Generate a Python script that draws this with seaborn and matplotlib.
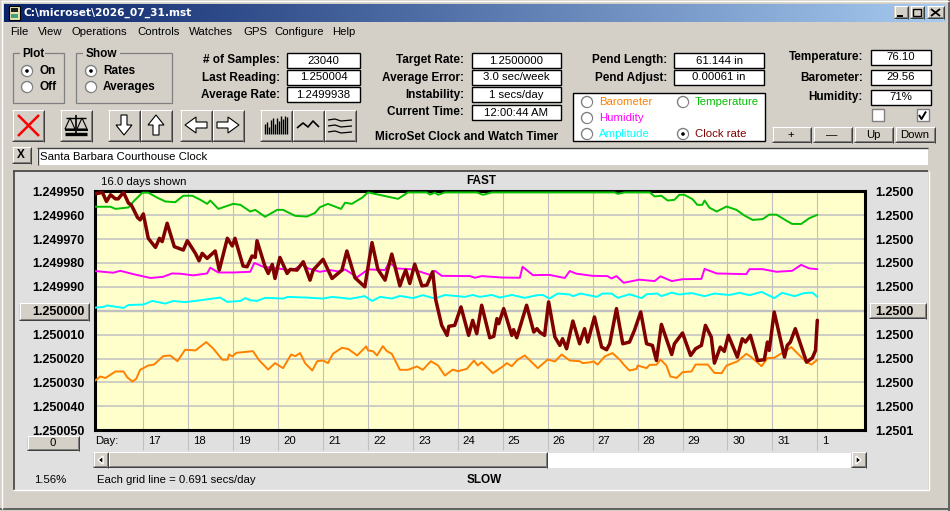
import numpy as np
import matplotlib
matplotlib.use("Agg")
import matplotlib.pyplot as plt
import matplotlib.transforms as mtrans
from matplotlib.patches import Rectangle, Circle, Polygon
import seaborn as sns

# values are offsets from 1.250000 in units of 1e-6, the axis runs FAST (top) to SLOW
temp_days = [15.93, 16.27, 16.38, 16.67, 16.78, 16.98, 17.11, 17.31, 17.49, 17.71, 17.89, 18.09, 18.27, 18.42, 18.49, 18.67, 19.0, 19.16, 19.38, 19.49, 19.71, 19.98, 20.11, 20.38, 20.64, 20.82, 20.93, 21.11, 21.4, 21.49, 21.64, 21.87, 22.0, 22.42, 22.67, 22.89, 23.31, 23.38, 23.49, 23.56, 23.71, 24.42, 24.56, 24.76, 27.49, 27.56, 27.71, 28.27, 28.38, 28.53, 28.67, 28.82, 28.93, 29.04, 29.22, 29.33, 29.44, 29.49, 29.6, 29.76, 29.98, 30.2, 30.38, 30.56, 30.78, 30.93, 31.09, 31.31, 31.44, 31.64, 31.82, 32.0]
temp_vals = [-43.5, -43.5, -42.6, -43.2, -45.7, -49.4, -49.4, -47.3, -45.7, -45.4, -48.1, -48.1, -46.4, -44.7, -46.1, -42.6, -44.7, -44.3, -41.5, -42.2, -39.3, -42.2, -42.2, -39.7, -39.4, -40.9, -43.3, -44.7, -42.6, -45.2, -44.7, -47.3, -49.5, -47.8, -46.8, -49.5, -49.5, -48.6, -49.4, -48.5, -49.5, -49.5, -48.5, -49.5, -49.5, -48.9, -49.5, -49.5, -47.8, -48.1, -46.1, -46.4, -48.5, -48.5, -46.7, -44.3, -44.3, -46.1, -43.1, -41.5, -43.6, -42.2, -39.8, -38.0, -38.3, -40.2, -40.2, -37.7, -36.3, -36.3, -38.7, -40.1]

humid_days = [15.93, 16.33, 16.49, 16.78, 17.16, 17.44, 17.64, 17.82, 18.11, 18.42, 18.49, 18.67, 19.0, 19.38, 19.47, 19.67, 20.11, 20.33, 20.53, 20.67, 20.93, 21.16, 21.38, 21.49, 21.76, 22.0, 22.38, 22.47, 22.64, 23.0, 23.38, 23.49, 23.64, 24.27, 24.38, 24.53, 24.98, 25.38, 25.44, 25.67, 26.04, 26.38, 26.49, 26.64, 27.0, 27.33, 27.42, 27.53, 27.69, 28.04, 28.38, 28.51, 28.76, 29.0, 29.42, 29.49, 29.76, 29.98, 30.42, 30.49, 30.78, 31.09, 31.44, 31.64, 31.82, 32.0]
humid_vals = [-16.6, -15.9, -16.7, -15.3, -13.7, -14.2, -15.6, -15.5, -14.8, -15.6, -18.0, -16.0, -16.0, -16.3, -20.0, -18.4, -17.4, -16.9, -19.5, -17.7, -16.3, -17.0, -16.3, -17.3, -14.0, -17.3, -17.0, -20.2, -17.7, -17.3, -15.0, -16.7, -14.6, -14.5, -13.8, -14.5, -13.9, -13.8, -18.4, -14.9, -15.0, -13.7, -16.6, -15.5, -14.6, -14.5, -13.5, -14.5, -11.7, -13.0, -12.4, -14.4, -12.4, -13.2, -13.3, -17.5, -15.6, -15.5, -15.3, -17.4, -17.4, -16.3, -16.7, -19.2, -17.7, -17.4]

amp_days = [15.93, 16.11, 16.2, 16.56, 16.67, 17.0, 17.2, 17.49, 17.67, 17.93, 18.27, 18.71, 18.87, 19.16, 19.27, 19.38, 19.53, 19.71, 20.11, 20.22, 20.64, 21.0, 21.2, 21.6, 21.93, 22.09, 22.27, 22.53, 22.71, 23.0, 23.22, 23.49, 23.71, 24.16, 24.33, 24.49, 24.76, 24.93, 25.2, 25.49, 25.76, 25.89, 26.04, 26.22, 26.49, 26.56, 26.73, 27.09, 27.22, 27.42, 27.56, 27.82, 28.09, 28.2, 28.44, 28.53, 28.76, 28.93, 29.2, 29.49, 29.71, 30.04, 30.27, 30.49, 30.76, 31.04, 31.22, 31.49, 31.71, 31.89, 32.0]
amp_vals = [-1.3, -1.6, -2.2, -1.2, -2.4, -2.6, -4.1, -3.0, -4.1, -3.6, -4.4, -5.5, -3.7, -4.1, -5.3, -4.4, -4.1, -5.4, -5.1, -5.8, -5.5, -5.1, -5.8, -5.0, -6.1, -4.1, -5.8, -5.1, -6.2, -5.3, -6.5, -5.1, -6.6, -5.8, -6.6, -5.8, -6.6, -5.5, -6.6, -5.4, -6.5, -6.6, -5.1, -7.2, -6.8, -6.1, -7.2, -5.8, -7.2, -7.2, -5.4, -6.9, -5.3, -6.9, -7.2, -6.1, -7.6, -6.8, -7.4, -6.1, -7.2, -6.6, -7.5, -6.5, -7.9, -5.3, -7.5, -6.1, -7.4, -7.6, -5.8]

baro_days = [15.93, 16.04, 16.16, 16.38, 16.56, 16.64, 16.76, 16.84, 16.93, 17.11, 17.24, 17.44, 17.6, 17.76, 17.93, 18.16, 18.4, 18.56, 18.76, 18.87, 18.91, 18.98, 19.07, 19.44, 19.58, 19.78, 19.93, 20.11, 20.29, 20.38, 20.49, 20.6, 20.76, 20.87, 21.0, 21.11, 21.22, 21.42, 21.56, 21.76, 21.96, 22.0, 22.11, 22.2, 22.33, 22.42, 22.53, 22.71, 22.89, 23.09, 23.22, 23.4, 23.56, 23.71, 23.89, 24.0, 24.2, 24.36, 24.44, 24.53, 24.78, 25.0, 25.09, 25.2, 25.33, 25.49, 25.78, 26.0, 26.16, 26.31, 26.49, 26.71, 26.78, 26.93, 27.02, 27.11, 27.27, 27.44, 27.6, 27.71, 27.82, 27.98, 28.0, 28.2, 28.27, 28.42, 28.51, 28.64, 28.73, 28.87, 29.0, 29.2, 29.29, 29.56, 29.71, 29.87, 29.98, 30.22, 30.42, 30.53, 30.76, 30.89, 31.04, 31.22, 31.42, 31.53, 31.76, 31.87, 32.0]
baro_vals = [29.2, 27.5, 28.1, 25.4, 25.4, 27.8, 29.6, 28.5, 24.7, 22.9, 22.5, 19.0, 18.7, 21.1, 16.3, 16.6, 13.1, 15.9, 20.5, 20.5, 18.3, 19.1, 17.6, 16.9, 20.8, 24.6, 21.9, 24.0, 18.3, 19.0, 17.7, 21.9, 25.0, 21.1, 20.8, 21.9, 18.0, 15.5, 16.0, 18.7, 14.9, 16.6, 16.9, 18.7, 14.8, 16.9, 18.0, 24.7, 24.7, 23.3, 24.7, 21.1, 22.9, 27.1, 24.6, 25.3, 24.3, 20.8, 22.9, 21.5, 26.1, 23.3, 21.9, 23.2, 20.5, 18.7, 24.0, 20.4, 21.2, 18.3, 20.8, 21.1, 21.9, 21.6, 21.2, 22.5, 19.1, 17.7, 20.4, 22.9, 25.0, 24.3, 22.9, 24.0, 22.6, 22.6, 20.4, 22.9, 27.5, 28.1, 25.7, 25.4, 22.5, 22.5, 26.0, 26.1, 22.9, 21.2, 18.0, 19.4, 23.2, 19.8, 19.7, 17.6, 15.2, 17.3, 21.5, 22.5, 20.5]

clock_days = [15.93, 16.09, 16.18, 16.27, 16.38, 16.44, 16.56, 16.67, 16.73, 16.78, 16.87, 16.93, 17.0, 17.11, 17.27, 17.36, 17.42, 17.53, 17.69, 17.89, 17.98, 18.16, 18.24, 18.31, 18.42, 18.6, 18.69, 18.87, 18.98, 19.04, 19.22, 19.31, 19.42, 19.49, 19.53, 19.71, 19.78, 19.87, 19.93, 20.04, 20.2, 20.27, 20.42, 20.56, 20.71, 20.78, 21.0, 21.2, 21.42, 21.53, 21.71, 21.93, 22.09, 22.22, 22.38, 22.53, 22.71, 22.78, 22.84, 22.93, 23.04, 23.2, 23.31, 23.44, 23.51, 23.64, 23.76, 23.8, 23.93, 24.07, 24.24, 24.33, 24.42, 24.53, 24.71, 24.8, 24.87, 24.91, 25.02, 25.2, 25.24, 25.31, 25.53, 25.69, 25.76, 25.82, 25.93, 26.02, 26.16, 26.27, 26.33, 26.42, 26.56, 26.71, 26.82, 26.89, 27.04, 27.2, 27.31, 27.38, 27.53, 27.67, 27.82, 27.93, 28.07, 28.2, 28.33, 28.42, 28.53, 28.76, 28.82, 29.0, 29.18, 29.29, 29.42, 29.51, 29.64, 29.71, 29.84, 29.93, 30.02, 30.22, 30.33, 30.4, 30.51, 30.67, 30.82, 30.89, 30.93, 31.04, 31.27, 31.33, 31.4, 31.51, 31.76, 31.89, 31.96, 32.0]
clock_vals = [-48.9, -49.5, -45.7, -48.5, -46.8, -46.8, -49.5, -45.0, -44.3, -42.5, -39.0, -38.0, -40.5, -30.3, -26.5, -30.3, -28.9, -36.6, -26.8, -25.4, -29.3, -24.0, -20.9, -24.0, -21.9, -25.0, -17.0, -30.3, -27.1, -30.3, -18.7, -18.4, -22.9, -22.3, -29.3, -18.4, -15.6, -19.4, -13.5, -22.3, -15.6, -17.3, -17.0, -20.5, -12.8, -17.0, -21.5, -13.5, -17.0, -25.0, -13.8, -10.0, -28.5, -17.3, -12.8, -23.7, -10.4, -14.2, -17.0, -11.4, -19.5, -10.4, -10.7, -16.3, -4.4, 6.1, 10.3, 6.5, 6.1, -1.6, 10.3, 4.0, 9.6, -2.3, 11.3, 10.7, 3.3, 5.4, -0.9, 10.3, 7.9, 11.3, -2.3, 8.9, 7.5, 8.9, 10.3, -3.7, 11.0, 14.5, 11.7, 15.9, 4.3, 13.8, 7.5, 13.1, 2.6, 15.2, 16.3, 13.8, -0.9, 13.8, 13.1, 8.2, 0.5, 13.8, 14.5, 20.8, 5.7, 18.3, 13.8, 9.3, 18.7, 15.9, 14.5, 6.1, 11.0, 21.9, 15.2, 17.0, 10.3, 19.4, 11.7, 13.1, 10.3, 20.8, 20.5, 13.1, 16.6, 0.5, 19.4, 14.5, 13.1, 7.5, 21.5, 19.7, 16.6, 4.0]

grid_offsets = [-50, -40, -30, -20, -10, 0, 10, 20, 30, 40, 50]
left_labels = ["1.249950", "1.249960", "1.249970", "1.249980", "1.249990", "1.250000",
               "1.250010", "1.250020", "1.250030", "1.250040", "1.250050"]
right_labels = ["1.2500"] * 10 + ["1.2501"]
day_ticks = [17, 18, 19, 20, 21, 22, 23, 24, 25, 26, 27, 28, 29, 30, 31, 32]
day_labels = ["17", "18", "19", "20", "21", "22", "23", "24", "25", "26", "27", "28", "29", "30", "31", "1"]

sns.set_theme(style="white")
plt.rcParams["font.family"] = ["Liberation Sans", "DejaVu Sans"]

FACE = "#d4d0c8"
PANEL = "#e0e0e0"
FONT = 8.2
BOLD = 8.5

fig = plt.figure(figsize=(9.5, 5.11), dpi=100, facecolor=FACE)

# window chrome, drawn in pixel coordinates on a full figure axes
ui = fig.add_axes([0, 0, 1, 1], zorder=0)
ui.set_axis_off()
ui.set_xlim(0, 950)
ui.set_ylim(511, 0)


def rect(x0, y0, x1, y1, fc="none", ec="none", lw=1.0, z=1):
    ui.add_patch(Rectangle((x0, y0), x1 - x0, y1 - y0, fc=fc, ec=ec, lw=lw, zorder=z))


def seg(xs, ys, color="black", lw=0.72, z=3):
    ui.plot(xs, ys, color=color, lw=lw, zorder=z, solid_capstyle="butt")


def bevel(x0, y0, x1, y1, sunken=False):
    light, dark = ("#ffffff", "#404040")
    if sunken:
        light, dark = dark, light
    rect(x0, y0, x1, y1, fc=FACE, z=2)
    seg([x0, x1], [y0 + 0.5, y0 + 0.5], light)
    seg([x0 + 0.5, x0 + 0.5], [y0, y1], light)
    seg([x0, x1], [y1 - 0.5, y1 - 0.5], dark)
    seg([x1 - 0.5, x1 - 0.5], [y0, y1], dark)
    seg([x0 + 1, x1 - 1], [y1 - 1.5, y1 - 1.5], "#808080")
    seg([x1 - 1.5, x1 - 1.5], [y0 + 1, y1 - 1], "#808080")


def txt(x, y, s, bold=False, ha="left", color="black", size=None):
    size = size or (BOLD if bold else FONT)
    ui.text(x, y, s, ha=ha, va="center", color=color, fontsize=size,
            fontweight="bold" if bold else "normal", zorder=6)


def field(x0, y0, x1, y1, s):
    rect(x0, y0, x1, y1, fc="white", ec="black", lw=1.0, z=2)
    txt((x0 + x1) / 2, (y0 + y1) / 2, s, ha="center")


def radio(x, y, on=False):
    ui.add_patch(Circle((x, y), 5.5, fc="white", ec="#808080", lw=1.0, zorder=3))
    ui.add_patch(Circle((x + 0.6, y + 0.6), 4.2, fc="white", ec="none", zorder=4))
    if on:
        ui.add_patch(Circle((x, y), 1.8, fc="black", ec="none", zorder=5))


def button(x0, y0, x1, y1, s, bold=False, size=None):
    bevel(x0, y0, x1, y1)
    txt((x0 + x1) / 2 - 0.5, (y0 + y1) / 2, s, ha="center", bold=bold, size=size)


# outer frame
rect(0, 0, 950, 511, fc=FACE)
seg([0, 950], [509.5, 509.5], "#606060", lw=1.4)
seg([948.5, 948.5], [0, 511], "#606060", lw=1.4)
seg([1, 949], [1.5, 1.5], "#ffffff", lw=1.0)
seg([1.5, 1.5], [1, 509], "#ffffff", lw=1.0)

# title bar
gradient = np.linspace(0, 1, 400).reshape(1, -1)
title_cmap = matplotlib.colors.LinearSegmentedColormap.from_list("title", ["#0a246a", "#a6caf0"])
ui.imshow(gradient, extent=(4, 946, 22, 4), aspect="auto", cmap=title_cmap, zorder=1)
ui.set_xlim(0, 950)
ui.set_ylim(511, 0)
ui.text(24, 13, "C:\\microset\\2026_07_31.mst", color="white", fontsize=7.65, fontweight="bold",
        family="DejaVu Sans", va="center", zorder=6)
rect(9, 6, 20, 20, fc="#e8e4b0", ec="black", lw=0.8, z=3)
rect(11, 8, 18, 12, fc="#202020", z=4)
rect(11, 14, 18, 18, fc="#40a080", z=4)
for bx0, bx1 in [(894, 908), (910, 924), (927, 944)]:
    bevel(bx0, 6, bx1, 19)
seg([897, 903], [16, 16], lw=1.4, z=5)
rect(913, 9, 921, 16, ec="black", lw=1.0, z=5)
seg([931, 940], [9, 16], lw=1.3, z=5)
seg([931, 940], [16, 9], lw=1.3, z=5)

# menu
for mx, name in [(10, "File"), (38, "View"), (72, "Operations"), (137, "Controls"), (189, "Watches"),
                 (243, "GPS"), (274, "Configure"), (332, "Help")]:
    txt(mx, 32, name)

# group boxes
rect(13, 53.5, 64, 103, ec="#808080", lw=0.9)
rect(76, 53.5, 172, 103, ec="#808080", lw=0.9)
rect(20, 49, 45, 58, fc=FACE, z=2)
rect(83, 49, 120, 58, fc=FACE, z=2)
txt(22, 54, "Plot", bold=True)
txt(86, 54, "Show", bold=True)
radio(27, 71, True)
radio(27, 87)
radio(91, 71, True)
radio(91, 87)
txt(40, 71, "On", bold=True)
txt(40, 87, "Off", bold=True)
txt(103, 71, "Rates", bold=True)
txt(103, 87, "Averages", bold=True)

# readouts
for ly, bx, s, val in [(60, (53, 68), "# of Samples:", "23040"), (78, (70, 85), "Last Reading:", "1.250004"),
                       (95, (87, 102), "Average Rate:", "1.2499938")]:
    txt(280, ly, s, bold=True, ha="right")
    field(287, bx[0], 360, bx[1], val)
for ly, bx, s, val in [(60, (53, 68), "Target Rate:", "1.2500000"), (78, (70, 85), "Average Error:", "3.0 sec/week"),
                       (95, (87, 102), "Instability:", "1 secs/day"), (112, (105, 120), "Current Time:", "12:00:44 AM")]:
    txt(464, ly, s, bold=True, ha="right")
    field(472, bx[0], 561, bx[1], val)
for ly, bx, s, val in [(60, (53, 68), "Pend Length:", "61.144 in"), (78, (70, 85), "Pend Adjust:", "0.00061 in")]:
    txt(667, ly, s, bold=True, ha="right")
    field(674, bx[0], 764, bx[1], val)
for ly, bx, s, val in [(57, (50, 65), "Temperature:", "76.10"), (78, (70, 85), "Barometer:", "29.56"),
                       (97, (90, 105), "Humidity:", "71%")]:
    txt(863, ly, s, bold=True, ha="right")
    field(871, bx[0], 931, bx[1], val)
txt(375, 137, "MicroSet Clock and Watch Timer", bold=True)

# series selector
rect(572.5, 93.5, 764.5, 141.5, fc="white", ec="black", lw=1.0, z=2)
for rx, ry, lab, col, on in [(587, 102, "Barometer", "#ff8000", False), (683, 102, "Temperature", "#00c000", False),
                             (587, 118, "Humidity", "#ff00ff", False), (587, 134, "Amplitude", "#00ffff", False),
                             (683, 134, "Clock rate", "#800000", True)]:
    radio(rx, ry, on)
    txt(rx + 12, ry, lab, color=col)

# checkboxes and small buttons
rect(871.5, 109.5, 883.5, 121.5, fc="white", ec="#808080", lw=1.0, z=2)
rect(916.5, 109.5, 928.5, 121.5, fc="white", ec="#808080", lw=1.0, z=2)
seg([919, 921.5, 926], [115, 119, 111.5], lw=1.4)
for bx0, bx1, lab in [(772, 811, "+"), (813, 852, "\u2014"), (854, 893, "Up"), (895, 935, "Down")]:
    button(bx0, 127, bx1, 143, lab)

# toolbar buttons
for bx0, bx1 in [(12, 44), (60, 92), (108, 140), (140, 172), (180, 212), (212, 244), (260, 292), (292, 324), (324, 356)]:
    bevel(bx0, 110, bx1, 142)
seg([18, 39], [115, 136], "#ff0000", lw=1.8, z=5)
seg([18, 39], [136, 115], "#ff0000", lw=1.8, z=5)
seg([76, 76], [115, 133], lw=1.2, z=5)
seg([66, 86], [118, 118], lw=1.0, z=5)
seg([65, 87], [134.5, 134.5], lw=2.4, z=5)
for cx in (70, 82):
    ui.add_patch(Polygon([(cx, 118), (cx - 5, 129), (cx + 5, 129)], closed=True, fc="none", ec="black", lw=0.8, zorder=5))
    seg([cx - 5.5, cx + 5.5], [130, 130], lw=1.4, z=5)
for arrow in [[(124, 135), (116, 125), (121, 125), (121, 115), (127, 115), (127, 125), (132, 125)],
              [(156, 115), (148, 125), (153, 125), (153, 135), (159, 135), (159, 125), (164, 125)],
              [(185, 125), (196, 117), (196, 122), (207, 122), (207, 128), (196, 128), (196, 133)],
              [(239, 125), (228, 117), (228, 122), (217, 122), (217, 128), (228, 128), (228, 133)]]:
    ui.add_patch(Polygon(arrow, closed=True, fc="white", ec="black", lw=0.8, zorder=5))
for bar_x, bar_top in zip(range(265, 288, 2), [124, 122, 127, 120, 118, 124, 118, 121, 116, 119, 116, 117]):
    seg([bar_x, bar_x], [bar_top, 134], lw=1.0, z=5)
seg([297, 303, 308, 313, 319], [128, 123, 127, 121, 127], lw=1.2, z=5)
for line_y in (120, 126, 132):
    seg([328, 335, 341, 352], [line_y, line_y - 1, line_y + 1, line_y], lw=0.9, z=5)

# note line
button(12, 147, 31, 164, "X", bold=True)
rect(37, 148, 928, 165, fc="white", z=2)
seg([37, 928], [148.5, 148.5], "#404040", lw=1.0)
seg([37.5, 37.5], [148, 165], "#404040", lw=1.0)
txt(40, 157, "Santa Barbara Courthouse Clock")

# chart panel
rect(14, 172, 928, 490, fc=PANEL, z=1)
seg([13, 928], [171.5, 171.5], "#404040", lw=1.2)
seg([13.5, 13.5], [171, 490], "#404040", lw=1.2)
seg([13, 929], [490, 490], "#ffffff", lw=1.0)
seg([928.5, 928.5], [171, 490], "#ffffff", lw=1.0)
button(19, 303, 89, 321, "")
button(869, 303, 926, 319, "")
button(27, 436, 79, 451, "0")
txt(101, 182, "16.0 days shown")
txt(481, 181, "FAST", bold=True, ha="center")
txt(484, 480, "SLOW", bold=True, ha="center")
txt(97, 480, "Each grid line = 0.691 secs/day")
txt(34, 480, "1.56%")
txt(95, 441, "Day:")

# scroll bar
rect(108, 453, 851, 468, fc="white", z=2)
bevel(93, 452, 108, 468)
bevel(108, 452, 547, 468)
bevel(851, 452, 866, 468)
ui.add_patch(Polygon([(103, 456), (103, 464), (98, 460)], closed=True, fc="black", zorder=5))
ui.add_patch(Polygon([(856, 456), (856, 464), (861, 460)], closed=True, fc="black", zorder=5))

# the chart itself
px_left, px_right, px_top, px_bottom = 94.7, 864.5, 191.2, 430.3
ax = fig.add_axes([px_left / 950, (511 - px_bottom) / 511, (px_right - px_left) / 950, (px_bottom - px_top) / 511],
                  zorder=2, facecolor="#ffffcc")
ax.patch.set_alpha(1)

ax.hlines(grid_offsets[1:-1], 15.9, 33.1, color="#c0c0c0", lw=1.1, zorder=1)
ax.hlines([0], 15.9, 33.1, color="#c0c0c0", lw=1.7, zorder=1)
ax.vlines(day_ticks, -50, 58.4, color="#c0c0c0", lw=0.8, zorder=1, clip_on=False)

series = [(baro_days, baro_vals, "#ff8000", 1.4), (temp_days, temp_vals, "#00c000", 1.4),
          (humid_days, humid_vals, "#ff00ff", 1.4), (amp_days, amp_vals, "#00ffff", 1.4),
          (clock_days, clock_vals, "#800000", 2.5)]
for xs, ys, col, width in series:
    sns.lineplot(x=xs, y=ys, color=col, linewidth=width, estimator=None, sort=False, ax=ax, zorder=3,
                 solid_joinstyle="round")

ax.set_xlim(15.918, 33.05)
ax.set_ylim(50, -50)
ax.set_xlabel("")
ax.set_ylabel("")
ax.set_yticks(grid_offsets)
ax.set_yticklabels(left_labels, fontsize=9, fontweight="bold", color="black")
ax.set_xticks(day_ticks)
ax.set_xticklabels(day_labels, fontsize=FONT, color="black", ha="left")
ax.tick_params(axis="x", length=0, pad=4)
ax.tick_params(axis="y", length=0, pad=7.5)
shift = mtrans.ScaledTranslation(5 / 100, 0, fig.dpi_scale_trans)
for lab in ax.get_xticklabels():
    lab.set_transform(lab.get_transform() + shift)
for spine in ax.spines.values():
    spine.set_visible(True)
    spine.set_color("black")
    spine.set_linewidth(2.2)

ax_right = ax.twinx()
ax_right.set_ylim(50, -50)
ax_right.set_yticks(grid_offsets)
ax_right.set_yticklabels(right_labels, fontsize=9, fontweight="bold", color="black")
ax_right.tick_params(axis="y", length=0, pad=7.5)
ax_right.grid(False)
for spine in ax_right.spines.values():
    spine.set_visible(False)

fig.savefig("out.png", dpi=100)
